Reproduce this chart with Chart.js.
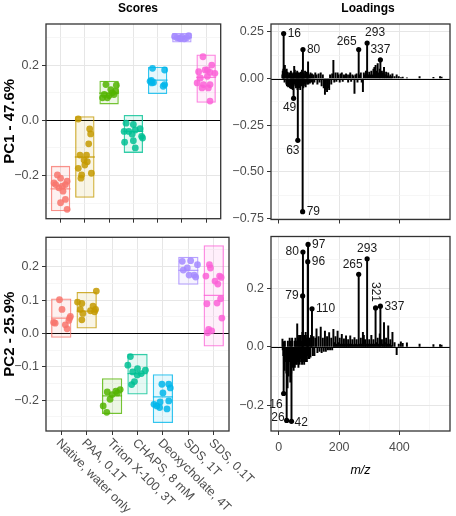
<!DOCTYPE html>
<html>
<head>
<meta charset="utf-8">
<title>Scores and loadings</title>
<script src="https://cdn.jsdelivr.net/npm/chart.js@4.4.1/dist/chart.umd.min.js"></script>
<style>
  html, body { margin: 0; padding: 0; background: #ffffff; }
  #fig { position: relative; width: 456px; height: 516px; overflow: hidden;
         font-family: "Liberation Sans", Arial, sans-serif; }
  #fig canvas { position: absolute; }
  .strip { position: absolute; top: 1px; font-size: 12px; font-weight: bold; line-height: 14px;
           color: #000; transform: translateX(-50%); white-space: nowrap; }
</style>
</head>
<body>
<div id="fig">
  <canvas id="scores1" width="232" height="230" style="left:0;top:0"></canvas>
  <canvas id="scores2" width="300" height="290" style="left:0;top:226px"></canvas>
  <canvas id="load1" width="224" height="230" style="left:232px;top:0"></canvas>
  <canvas id="load2" width="224" height="290" style="left:232px;top:226px"></canvas>
  <div class="strip" style="left:138px">Scores</div>
  <div class="strip" style="left:368px">Loadings</div>
</div>
<script>
/* ---------- data: scores ---------- */
const categories = ["Native, water only", "PAA, 0.1T", "Triton X-100, 3T", "CHAPS, 8 mM",
                    "Deoxycholate, 4T", "SDS, 1T", "SDS, 0.1T"];

// crossbars (low / middle / high) per category
const pc1Low  = [-0.330, -0.281, 0.058, -0.118, 0.096, 0.283, 0.064];
const pc1Mid  = [-0.249, -0.133, 0.099, -0.040, 0.146, 0.300, 0.156];
const pc1High = [-0.165, 0.015, 0.144, 0.020, 0.195, 0.317, 0.239];
const pc2Low  = [-0.013, 0.015, -0.241, -0.183, -0.268, 0.146, -0.039];
const pc2Mid  = [0.046, 0.067, -0.187, -0.120, -0.190, 0.189, 0.114];
const pc2High = [0.105, 0.124, -0.134, -0.061, -0.122, 0.230, 0.264];

// individual samples, one list per category
const pc1Scores = [
  [-0.198, -0.210, -0.221, -0.227, -0.233, -0.239, -0.245, -0.257, -0.287, -0.299, -0.323, -0.233],
  [0.005, -0.031, -0.049, -0.085, -0.126, -0.126, -0.144, -0.150, -0.162, -0.174, -0.192, -0.198, -0.210],
  [0.130, 0.128, 0.112, 0.094, 0.094, 0.082, 0.082, 0.106, 0.100, 0.090],
  [-0.010, -0.015, -0.030, -0.040, -0.040, -0.035, -0.050, -0.058, -0.079, -0.074, -0.100, -0.064],
  [0.189, 0.183, 0.142, 0.136, 0.138, 0.124, 0.130, 0.145],
  [0.305, 0.300, 0.298, 0.302, 0.296, 0.300, 0.308, 0.297],
  [0.231, 0.201, 0.177, 0.183, 0.174, 0.171, 0.154, 0.160, 0.136, 0.130, 0.130, 0.118, 0.118, 0.070, 0.183]
];
// horizontal jitter of those samples (category units)
const pc1Jitter = [
  [-0.13, 0.00, 0.27, -0.27, 0.20, 0.07, -0.07, 0.10, 0.20, 0.00, 0.27, -0.20],
  [-0.27, 0.20, 0.24, 0.16, -0.20, 0.07, -0.03, 0.10, 0.00, -0.27, 0.27, -0.13, -0.16],
  [-0.13, 0.30, 0.07, -0.20, 0.20, -0.07, -0.27, 0.27, 0.13, 0.00],
  [-0.30, 0.00, 0.28, -0.38, -0.19, 0.08, -0.05, 0.34, -0.36, 0.00, 0.08, 0.38],
  [-0.21, 0.29, -0.31, -0.24, -0.17, 0.23, 0.29, -0.26],
  [-0.30, -0.20, -0.10, 0.00, 0.10, 0.20, 0.28, -0.05],
  [-0.13, 0.23, -0.31, -0.04, 0.16, 0.36, -0.24, 0.05, -0.37, -0.11, 0.16, 0.09, -0.17, 0.16, 0.05]
];
const pc2Scores = [
  [0.101, 0.072, 0.051, 0.046, 0.039, 0.031, 0.026, 0.014, 0.033],
  [0.127, 0.094, 0.090, 0.082, 0.072, 0.068, 0.072, 0.060, 0.065, 0.041],
  [-0.168, -0.173, -0.175, -0.183, -0.197, -0.217, -0.236, -0.178],
  [-0.069, -0.095, -0.105, -0.110, -0.120, -0.115, -0.124, -0.144, -0.153],
  [-0.152, -0.152, -0.163, -0.178, -0.217, -0.212, -0.222, -0.202, -0.226, -0.205],
  [0.216, 0.218, 0.206, 0.196, 0.190, 0.175, 0.175, 0.169],
  [0.206, 0.196, 0.172, 0.157, 0.172, 0.168, 0.148, 0.089, 0.091, 0.104, 0.046, 0.012, 0.002, 0.008]
];
const pc2Jitter = [
  [-0.07, 0.03, 0.36, 0.33, 0.30, -0.24, 0.16, 0.23, -0.30],
  [0.38, -0.36, -0.19, 0.25, -0.25, 0.15, 0.35, -0.15, 0.31, -0.19],
  [0.32, 0.15, -0.19, 0.00, -0.08, -0.35, -0.21, 0.21],
  [-0.28, -0.38, 0.00, 0.31, 0.15, -0.19, -0.01, -0.12, -0.23],
  [-0.04, 0.23, 0.29, 0.00, -0.24, -0.35, -0.13, 0.23, 0.16, -0.11],
  [-0.24, 0.09, 0.36, -0.04, -0.20, 0.03, 0.23, 0.29],
  [-0.17, -0.13, -0.31, 0.05, 0.23, 0.29, 0.16, -0.27, 0.13, 0.27, 0.32, -0.20, -0.24, -0.08]
];

/* ---------- data: loadings ---------- */
const loadMz = [
  12, 13, 14, 15, 16, 17, 18, 19, 20, 24, 25, 26, 27, 28, 29, 30, 31, 32,
  36, 37, 38, 39, 40, 41, 42, 43, 44, 45, 46, 47, 48, 49, 50,
  51, 52, 53, 55, 56, 57, 58, 59, 60, 61, 62, 63, 64, 65, 66, 67, 68, 69, 70, 71,
  73, 74, 75, 76, 77, 78, 79, 80, 81, 82, 83, 84, 85, 87, 89, 91, 92, 93, 94, 95, 96, 97, 98, 99,
  101, 103, 105, 107, 110, 113, 115, 118, 121,
  125, 128, 132, 135,  139, 142, 146, 149,  153, 156, 160, 163,  167, 170, 174, 177,
  181, 184, 188, 191,  195, 198, 202, 205,  209, 212, 216, 219,  223, 226, 230, 233,
  237, 240, 244, 247,  251, 254, 258, 261,  265, 268, 272, 275,  279, 282, 286, 289,
  293, 296, 300, 303,  307, 310, 314, 317,  321, 324, 328, 331,  335, 337, 342, 345,
  349, 352, 356, 359,  363, 366, 370, 373,
  377, 384, 391, 398, 405, 411, 425, 467, 513, 535, 540
];
const loadPC1 = [
  0.02, 0.04, 0.03, 0.05, 0.241, 0.06, 0.03, -0.02, 0.07, 0.045, -0.03, 0.05, -0.04, 0.035, -0.02, 0.03, -0.045, 0.02,
  0.03, -0.05, 0.025, -0.03, 0.04, -0.055, -0.02, 0.03, -0.04, 0.02, -0.06, 0.025, -0.03, -0.106, 0.03,
  0.065, -0.03, 0.045, -0.04, 0.03, -0.05, 0.02, 0.03, -0.035, 0.04, -0.06, -0.331, 0.03, -0.045, 0.025, -0.05, 0.03, -0.03, 0.02, -0.06,
  0.035, -0.04, 0.03, -0.02, 0.045, -0.035, -0.713, 0.155, -0.05, 0.03, -0.04, 0.02, -0.03, 0.04, -0.045, 0.03, -0.02, 0.035, -0.03, 0.025, 0.03, 0.09, -0.03, 0.02,
  0.02, -0.025, 0.03, -0.02, 0.025, -0.03, 0.02, -0.02, 0.03,
  0.02, -0.03, 0.025, -0.02,  0.03, -0.04, 0.02, -0.05,  -0.085, -0.06, -0.07, -0.05,  -0.06, 0.02, -0.03, 0.025,
  0.097, -0.02, 0.03, -0.015,  0.03, 0.02, -0.02, 0.025,  0.03, -0.015, 0.02, 0.015,  0.025, 0.02, -0.02, 0.02,
  0.03, -0.015, 0.02, 0.015,  -0.08, 0.02, 0.025, -0.02,  0.155, 0.02, 0.03, -0.02,  -0.07, 0.03, 0.02, 0.04,
  0.19, 0.02, 0.035, 0.02,  0.04, 0.02, 0.05, 0.06,  0.07, 0.04, 0.08, 0.03,  0.05, 0.10, 0.04, 0.03,
  0.06, 0.02, 0.035, 0.015,  0.03, 0.01, 0.02, 0.01,
  0.025, 0.01, 0.02, 0.01, 0.005, 0.008, 0.004, 0.01, 0.006, 0.01, 0.008
];
const loadPC2 = [
  0.027, -0.01, 0.018, -0.03, -0.159, -0.06, 0.015, -0.08, 0.02, -0.05, -0.09, -0.251, -0.04, -0.07, -0.14, 0.02, -0.06, -0.1,
  0.03, -0.05, -0.12, -0.04, 0.02, -0.09, -0.254, -0.05, 0.03, -0.07, -0.05, -0.03, -0.06, -0.08, -0.04,
  -0.05, 0.02, -0.07, 0.03, -0.06, -0.04, 0.02, -0.05, -0.06, 0.079, -0.04, -0.05, 0.03, -0.07, -0.03, 0.04, -0.05, -0.06, 0.02, -0.04,
  0.04, -0.05, -0.03, 0.02, -0.06, 0.05, 0.174, 0.324, -0.05, 0.03, -0.04, -0.06, 0.04, -0.05, 0.05, -0.04, 0.03, -0.05, 0.04, -0.03, 0.291, 0.35, -0.04, 0.03,
  -0.04, 0.03, -0.035, 0.04, 0.13, -0.03, 0.035, -0.03, 0.03,
  0.062, -0.02, 0.035, -0.015,  0.068, -0.02, 0.03, -0.015,  0.054, -0.015, 0.035, -0.01,  0.049, -0.01, 0.03, -0.01,
  0.06, 0.015, 0.035, 0.01,  0.054, 0.015, 0.03, 0.01,  0.043, 0.01, 0.028, 0.01,  0.038, 0.01, 0.025, 0.01,
  0.038, 0.01, 0.025, 0.008,  0.032, 0.01, 0.025, 0.008,  0.248, 0.01, 0.03, 0.01,  0.05, 0.04, 0.025, 0.01,
  0.301, 0.01, 0.025, 0.01,  0.04, 0.01, 0.025, 0.01,  0.133, 0.015, 0.03, 0.01,  0.045, 0.139, 0.025, 0.01,
  0.083, 0.015, 0.03, 0.01,  0.072, 0.01, 0.025, 0.005,
  0.05, 0.015, -0.026, 0.01, 0.017, 0.012, 0.014, 0.01, 0.008, 0.008, 0.006
];
const pc1Labeled = [16, 80, 265, 293, 337, 49, 63, 79];
const pc2Labeled = [80, 97, 96, 79, 110, 265, 293, 321, 337, 16, 26, 42];

/* ---------- styling ---------- */
const groupColors = ["#F8766D", "#C49A00", "#53B400", "#00C094", "#00B6EB", "#A58AFF", "#FB61D7"];
const FONT = '"Liberation Sans", Arial, sans-serif';
const TICK_FONT = { family: FONT, size: 12.5 };
const TICK_COLOR = "#4d4d4d";
const GRID_MAJOR = "#e6e6e6", GRID_MINOR = "#f2f2f2";

// label offsets [dx, dy, align, vertical]
const pc1Place = { 16: [4, 0, "left"], 80: [4, 0, "left"], 265: [-2, -8, "right"], 293: [8, -10, "center"],
                   337: [0, -10, "center"], 49: [-4, 9, "center"], 63: [-5, 10, "center"], 79: [4, 0, "left"] };
const pc2Place = { 80: [-4, 0, "right"], 97: [4, 0, "left"], 96: [4, 0, "left"], 79: [-4, 0, "right"],
                   110: [4, 0, "left"], 265: [-6, -10, "center"], 293: [0, -10, "center"],
                   321: [0, -16, "center", true], 337: [4, 0, "left"], 16: [-1, 11, "right"],
                   26: [-2, -3, "right"], 42: [3, 1, "left"] };

Chart.defaults.font.family = FONT;

function rgba(hex, a) {
  const n = parseInt(hex.slice(1), 16);
  return `rgba(${n >> 16},${(n >> 8) & 255},${n & 255},${a})`;
}
const near = (a, b) => Math.abs(a - b) < 1e-6;
function fmt(v, d) {
  return (v < -1e-9 ? "\u2212" : "") + Math.abs(v).toFixed(d);
}

/* ---------- scale builders ---------- */
function yAxis(min, max, major, minor, digits, width, title) {
  const all = major.concat(minor).sort((a, b) => a - b);
  const isMajor = v => major.some(m => near(m, v));
  return {
    type: "linear", min, max,
    afterBuildTicks: s => { s.ticks = all.map(v => ({ value: v })); },
    afterFit: s => { s.width = width; },
    border: { display: false },
    grid: {
      color: c => isMajor(c.tick.value) ? GRID_MAJOR : GRID_MINOR,
      lineWidth: c => isMajor(c.tick.value) ? 1 : 0.7,
      tickColor: c => isMajor(c.tick.value) ? "#333" : "rgba(0,0,0,0)",
      tickLength: 4
    },
    ticks: {
      autoSkip: false, padding: 3, color: TICK_COLOR, font: TICK_FONT,
      callback: v => isMajor(v) ? fmt(v, digits) : ""
    },
    title: title ? { display: true, text: title, color: "#000",
                     font: { family: FONT, size: 15, weight: "bold" }, padding: { top: 1 } }
                 : { display: false }
  };
}

function xAxis(min, max, major, minor, height, showLabels, title) {
  const all = major.concat(minor).sort((a, b) => a - b);
  const isMajor = v => major.some(m => near(m, v));
  return {
    type: "linear", min, max, offset: false,
    afterBuildTicks: s => { s.ticks = all.map(v => ({ value: v })); },
    afterFit: s => { s.height = height; },
    border: { display: false },
    grid: {
      offset: false,
      color: c => isMajor(c.tick.value) ? GRID_MAJOR : GRID_MINOR,
      lineWidth: c => isMajor(c.tick.value) ? 1 : 0.7,
      tickColor: c => isMajor(c.tick.value) ? "#333" : "rgba(0,0,0,0)",
      tickLength: 4
    },
    ticks: {
      display: showLabels, autoSkip: false, maxRotation: 0, padding: 5,
      color: TICK_COLOR, font: TICK_FONT,
      callback: v => isMajor(v) ? String(v) : ""
    },
    title: title ? { display: true, text: title, color: "#000",
                     font: { family: FONT, size: 12.5, style: "italic" }, padding: { bottom: 38 } }
                 : { display: false }
  };
}

/* ---------- plugins ---------- */
const framePlugin = {
  id: "frame",
  beforeDatasetsDraw(chart) {
    const { ctx, chartArea: a, scales: { y } } = chart;
    const y0 = Math.round(y.getPixelForValue(0)) + 0.5;
    ctx.save();
    ctx.strokeStyle = "#000";
    ctx.lineWidth = 1.1;
    ctx.beginPath();
    ctx.moveTo(a.left, y0);
    ctx.lineTo(a.right, y0);
    ctx.stroke();
    ctx.restore();
  },
  afterDraw(chart) {
    const { ctx, chartArea: a } = chart;
    ctx.save();
    ctx.strokeStyle = "#333";
    ctx.lineWidth = 1.3;
    ctx.strokeRect(a.left, a.top, a.right - a.left, a.bottom - a.top);
    ctx.restore();
  }
};

const categoryLabelPlugin = {
  id: "catLabels",
  afterDraw(chart) {
    const { ctx, chartArea: a, scales: { x } } = chart;
    ctx.save();
    ctx.font = `12.5px ${FONT}`;
    ctx.fillStyle = TICK_COLOR;
    ctx.textAlign = "left";
    ctx.textBaseline = "middle";
    categories.forEach((c, i) => {
      ctx.save();
      ctx.translate(x.getPixelForValue(i + 1) - 3, a.bottom + 10);
      ctx.rotate(Math.PI / 4);
      ctx.fillText(c, 0, 0);
      ctx.restore();
    });
    ctx.restore();
  }
};

function stemLabelPlugin(labeled, values, place) {
  return {
    id: "stemLabels",
    afterDatasetsDraw(chart) {
      const { ctx, scales: { x, y } } = chart;
      ctx.save();
      ctx.font = `12px ${FONT}`;
      ctx.fillStyle = "#1a1a1a";
      ctx.textBaseline = "middle";
      labeled.forEach(m => {
        const [dx, dy, align, vertical] = place[m];
        const v = values[loadMz.indexOf(m)];
        ctx.save();
        ctx.translate(x.getPixelForValue(m) + dx, y.getPixelForValue(v) + dy);
        if (vertical) ctx.rotate(Math.PI / 2);
        ctx.textAlign = align;
        ctx.fillText(String(m), 0, 0);
        ctx.restore();
      });
      ctx.restore();
    }
  };
}

/* ---------- chart builders ---------- */
function scoreDatasets(low, mid, high, scores, jitter) {
  const ds = [{
    type: "bar",
    data: categories.map((c, i) => ({ x: i + 1, y: [low[i], high[i]] })),
    backgroundColor: groupColors.map(c => rgba(c, 0.1)),
    borderColor: groupColors.map(c => rgba(c, 0.8)),
    borderWidth: 1.3,
    borderSkipped: false,
    categoryPercentage: 0.8,
    barPercentage: 1,
    order: 3
  }, {
    type: "scatter",
    data: categories.map((c, i) => ({ x: i + 1, y: mid[i] })),
    pointStyle: "line",
    pointRadius: 10,
    borderColor: groupColors.map(c => rgba(c, 0.8)),
    borderWidth: 1.3,
    order: 2
  }];
  scores.forEach((g, i) => ds.push({
    type: "scatter",
    data: g.map((v, j) => ({ x: i + 1 + jitter[i][j], y: v })),
    backgroundColor: rgba(groupColors[i], 0.85),
    borderWidth: 0,
    pointRadius: 3.4,
    order: 1
  }));
  return ds;
}

function baseOptions(padding, scales) {
  return {
    animation: false, responsive: false, devicePixelRatio: 1, events: [],
    layout: { padding },
    plugins: { legend: { display: false }, tooltip: { enabled: false } },
    scales
  };
}

const catTicks = categories.map((c, i) => i + 1);

new Chart(document.getElementById("scores1"), {
  type: "scatter",
  data: { datasets: scoreDatasets(pc1Low, pc1Mid, pc1High, pc1Scores, pc1Jitter) },
  options: baseOptions({ top: 24, right: 3, bottom: 0, left: 0 }, {
    x: xAxis(0.4, 7.6, catTicks, [], 8, false),
    y: yAxis(-0.357, 0.35, [-0.2, 0, 0.2], [-0.3, -0.1, 0.1, 0.3], 1, 46, "PC1 - 47.6%")
  }),
  plugins: [framePlugin]
});

// wider canvas so the slanted category names can run under the loadings panel
new Chart(document.getElementById("scores2"), {
  type: "scatter",
  data: { datasets: scoreDatasets(pc2Low, pc2Mid, pc2High, pc2Scores, pc2Jitter) },
  options: baseOptions({ top: 6, right: 71, bottom: 0, left: 0 }, {
    x: xAxis(0.4, 7.6, catTicks, [], 85, false),
    y: yAxis(-0.292, 0.288, [-0.2, -0.1, 0, 0.1, 0.2], [-0.25, -0.15, -0.05, 0.05, 0.15, 0.25], 1, 46, "PC2 - 25.9%")
  }),
  plugins: [framePlugin, categoryLabelPlugin]
});

function loadingDatasets(values, labeled) {
  return [{
    type: "bar",
    data: loadMz.map((m, i) => ({ x: m, y: values[i] })),
    backgroundColor: "#000",
    borderWidth: 0,
    barThickness: 1.3,
    order: 2
  }, {
    type: "scatter",
    data: labeled.map(m => ({ x: m, y: values[loadMz.indexOf(m)] })),
    backgroundColor: "#000",
    borderWidth: 0,
    pointRadius: 2.6,
    order: 1
  }];
}

new Chart(document.getElementById("load1"), {
  type: "scatter",
  data: { datasets: loadingDatasets(loadPC1, pc1Labeled) },
  options: baseOptions({ top: 24, right: 6, bottom: 0, left: 0 }, {
    x: xAxis(-26, 568, [0, 200, 400], [100, 300, 500], 8, false),
    y: yAxis(-0.755, 0.292, [-0.75, -0.5, -0.25, 0, 0.25], [-0.625, -0.375, -0.125, 0.125], 2, 39)
  }),
  plugins: [framePlugin, stemLabelPlugin(pc1Labeled, loadPC1, pc1Place)]
});

new Chart(document.getElementById("load2"), {
  type: "scatter",
  data: { datasets: loadingDatasets(loadPC2, pc2Labeled) },
  options: baseOptions({ top: 6, right: 6, bottom: 0, left: 0 }, {
    x: xAxis(-26, 568, [0, 200, 400], [100, 300, 500], 85, true, "m/z"),
    y: yAxis(-0.287, 0.377, [-0.2, 0, 0.2], [-0.1, 0.1, 0.3], 1, 39)
  }),
  plugins: [framePlugin, stemLabelPlugin(pc2Labeled, loadPC2, pc2Place)]
});
</script>
</body>
</html>
